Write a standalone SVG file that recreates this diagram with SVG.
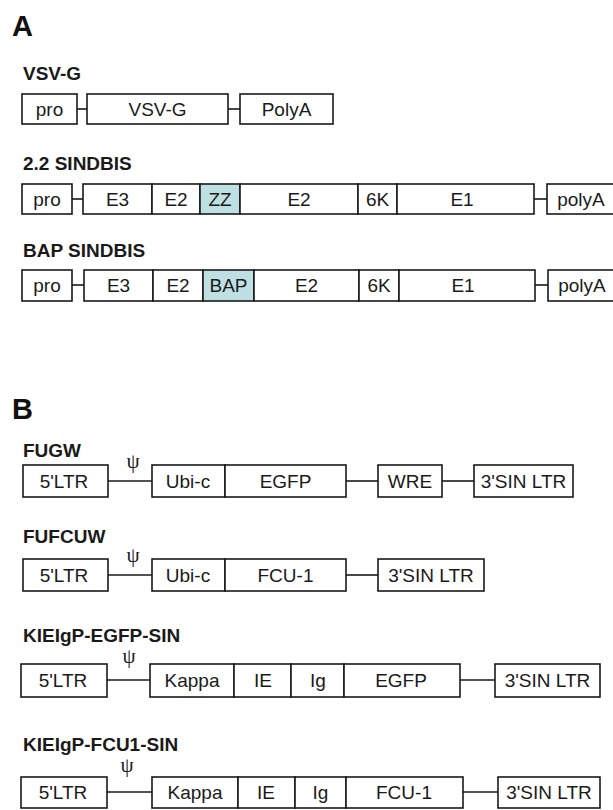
<svg xmlns="http://www.w3.org/2000/svg" width="613" height="810" viewBox="0 0 613 810">
<style>
.bx{fill:#fff;stroke:#1a1a1a;stroke-width:1.6}
.hl{fill:#bfe0e3;stroke:#1a1a1a;stroke-width:1.6}
.t{font-family:"Liberation Sans",Arial,sans-serif;font-size:19px;fill:#1a1a1a;text-anchor:middle}
.lb{font-family:"Liberation Sans",Arial,sans-serif;font-size:19px;font-weight:bold;fill:#1a1a1a}
.pn{font-family:"Liberation Sans",Arial,sans-serif;font-size:29px;font-weight:bold;fill:#111}
.psi{font-family:"Liberation Serif","Times New Roman",serif;font-size:21px;fill:#1a1a1a;text-anchor:middle}
.ln{stroke:#1a1a1a;stroke-width:1.6;fill:none}
</style>
<rect width="613" height="810" fill="#fff"/>

<text class="pn" x="12" y="36">A</text>
<text class="pn" x="12" y="419">B</text>

<g id="labels">
<text class="lb" x="23" y="80">VSV-G</text>
<text class="lb" x="23" y="170">2.2 SINDBIS</text>
<text class="lb" x="23" y="257">BAP SINDBIS</text>
<text class="lb" x="23" y="457">FUGW</text>
<text class="lb" x="23" y="543">FUFCUW</text>
<text class="lb" x="23" y="642">KIEIgP-EGFP-SIN</text>
<text class="lb" x="23" y="751">KIEIgP-FCU1-SIN</text>
</g>

<g id="connectors">
<line class="ln" x1="77" y1="109" x2="87" y2="109"/>
<line class="ln" x1="228" y1="109" x2="240" y2="109"/>
<line class="ln" x1="72" y1="199" x2="83" y2="199"/>
<line class="ln" x1="534" y1="199" x2="547" y2="199"/>
<line class="ln" x1="72" y1="285" x2="84" y2="285"/>
<line class="ln" x1="535" y1="285" x2="548" y2="285"/>
<line class="ln" x1="108" y1="481" x2="152" y2="481"/>
<line class="ln" x1="346" y1="481" x2="378" y2="481"/>
<line class="ln" x1="442" y1="481" x2="474" y2="481"/>
<line class="ln" x1="108" y1="575" x2="152" y2="575"/>
<line class="ln" x1="346" y1="575" x2="378" y2="575"/>
<line class="ln" x1="107" y1="680" x2="150" y2="680"/>
<line class="ln" x1="460" y1="680" x2="495" y2="680"/>
<line class="ln" x1="107" y1="792" x2="152" y2="792"/>
<line class="ln" x1="463" y1="792" x2="498" y2="792"/>
</g>

<!-- VSV-G -->
<g id="vsvg-pro"><rect class="bx" x="22" y="94" width="55" height="30"/><text class="t" x="49.5" y="116">pro</text></g>
<g id="vsvg-vsvg"><rect class="bx" x="87" y="94" width="141" height="30"/><text class="t" x="157.5" y="116">VSV-G</text></g>
<g id="vsvg-polya"><rect class="bx" x="240" y="94" width="93" height="30"/><text class="t" x="286.5" y="116">PolyA</text></g>

<!-- 2.2 SINDBIS -->
<g id="s22-pro"><rect class="bx" x="22" y="184" width="50" height="30"/><text class="t" x="47" y="206">pro</text></g>
<g id="s22-e3"><rect class="bx" x="83" y="184" width="69" height="30"/><text class="t" x="117.5" y="206">E3</text></g>
<g id="s22-e2a"><rect class="bx" x="152" y="184" width="48" height="30"/><text class="t" x="176" y="206">E2</text></g>
<g id="s22-zz"><rect class="hl" x="200" y="184" width="40" height="30"/><text class="t" x="220" y="206">ZZ</text></g>
<g id="s22-e2b"><rect class="bx" x="240" y="184" width="118" height="30"/><text class="t" x="299" y="206">E2</text></g>
<g id="s22-6k"><rect class="bx" x="358" y="184" width="39" height="30"/><text class="t" x="377.5" y="206">6K</text></g>
<g id="s22-e1"><rect class="bx" x="397" y="184" width="137" height="30"/><text class="t" x="462" y="206">E1</text></g>
<g id="s22-polya"><rect class="bx" x="547" y="184" width="80" height="30"/><text class="t" x="581" y="206">polyA</text></g>

<!-- BAP SINDBIS -->
<g id="bap-pro"><rect class="bx" x="22" y="270" width="50" height="31"/><text class="t" x="47" y="292">pro</text></g>
<g id="bap-e3"><rect class="bx" x="84" y="270" width="69" height="31"/><text class="t" x="118.5" y="292">E3</text></g>
<g id="bap-e2a"><rect class="bx" x="153" y="270" width="50" height="31"/><text class="t" x="178" y="292">E2</text></g>
<g id="bap-bap"><rect class="hl" x="203" y="270" width="51" height="31"/><text class="t" x="228.5" y="292">BAP</text></g>
<g id="bap-e2b"><rect class="bx" x="254" y="270" width="105" height="31"/><text class="t" x="306.5" y="292">E2</text></g>
<g id="bap-6k"><rect class="bx" x="359" y="270" width="40" height="31"/><text class="t" x="379" y="292">6K</text></g>
<g id="bap-e1"><rect class="bx" x="399" y="270" width="136" height="31"/><text class="t" x="463" y="292">E1</text></g>
<g id="bap-polya"><rect class="bx" x="548" y="270" width="80" height="31"/><text class="t" x="582" y="292">polyA</text></g>

<!-- FUGW -->
<g id="fugw-5ltr"><rect class="bx" x="23" y="465" width="85" height="32"/><text class="t" x="64" y="488">5'LTR</text></g>
<g id="fugw-psi"><text class="psi" x="133" y="468">ψ</text></g>
<g id="fugw-ubic"><rect class="bx" x="152" y="465" width="73" height="32"/><text class="t" x="188" y="488">Ubi-c</text></g>
<g id="fugw-egfp"><rect class="bx" x="225" y="465" width="121" height="32"/><text class="t" x="285.5" y="488">EGFP</text></g>
<g id="fugw-wre"><rect class="bx" x="378" y="465" width="64" height="32"/><text class="t" x="410" y="488">WRE</text></g>
<g id="fugw-3ltr"><rect class="bx" x="474" y="465" width="99" height="32"/><text class="t" x="523.5" y="488">3'SIN LTR</text></g>

<!-- FUFCUW -->
<g id="fufcuw-5ltr"><rect class="bx" x="23" y="559" width="85" height="32"/><text class="t" x="64" y="582">5'LTR</text></g>
<g id="fufcuw-psi"><text class="psi" x="133" y="562">ψ</text></g>
<g id="fufcuw-ubic"><rect class="bx" x="152" y="559" width="73" height="32"/><text class="t" x="188" y="582">Ubi-c</text></g>
<g id="fufcuw-fcu1"><rect class="bx" x="225" y="559" width="121" height="32"/><text class="t" x="285.5" y="582">FCU-1</text></g>
<g id="fufcuw-3ltr"><rect class="bx" x="378" y="559" width="106" height="32"/><text class="t" x="431" y="582">3'SIN LTR</text></g>

<!-- KIEIgP-EGFP-SIN -->
<g id="ke-5ltr"><rect class="bx" x="21" y="664" width="86" height="33"/><text class="t" x="63" y="687">5'LTR</text></g>
<g id="ke-psi"><text class="psi" x="129" y="663">ψ</text></g>
<g id="ke-kappa"><rect class="bx" x="150" y="664" width="84" height="33"/><text class="t" x="192" y="687">Kappa</text></g>
<g id="ke-ie"><rect class="bx" x="234" y="664" width="57" height="33"/><text class="t" x="263" y="687">IE</text></g>
<g id="ke-ig"><rect class="bx" x="291" y="664" width="53" height="33"/><text class="t" x="318" y="687">Ig</text></g>
<g id="ke-egfp"><rect class="bx" x="344" y="664" width="116" height="33"/><text class="t" x="401" y="687">EGFP</text></g>
<g id="ke-3ltr"><rect class="bx" x="495" y="664" width="105" height="33"/><text class="t" x="547.5" y="687">3'SIN LTR</text></g>

<!-- KIEIgP-FCU1-SIN -->
<g id="kf-5ltr"><rect class="bx" x="21" y="777" width="86" height="31"/><text class="t" x="63" y="799">5'LTR</text></g>
<g id="kf-psi"><text class="psi" x="127" y="772">ψ</text></g>
<g id="kf-kappa"><rect class="bx" x="152" y="777" width="86" height="31"/><text class="t" x="195" y="799">Kappa</text></g>
<g id="kf-ie"><rect class="bx" x="238" y="777" width="57" height="31"/><text class="t" x="266" y="799">IE</text></g>
<g id="kf-ig"><rect class="bx" x="295" y="777" width="51" height="31"/><text class="t" x="320.5" y="799">Ig</text></g>
<g id="kf-fcu1"><rect class="bx" x="346" y="777" width="117" height="31"/><text class="t" x="404" y="799">FCU-1</text></g>
<g id="kf-3ltr"><rect class="bx" x="498" y="777" width="102" height="31"/><text class="t" x="549" y="799">3'SIN LTR</text></g>
</svg>
